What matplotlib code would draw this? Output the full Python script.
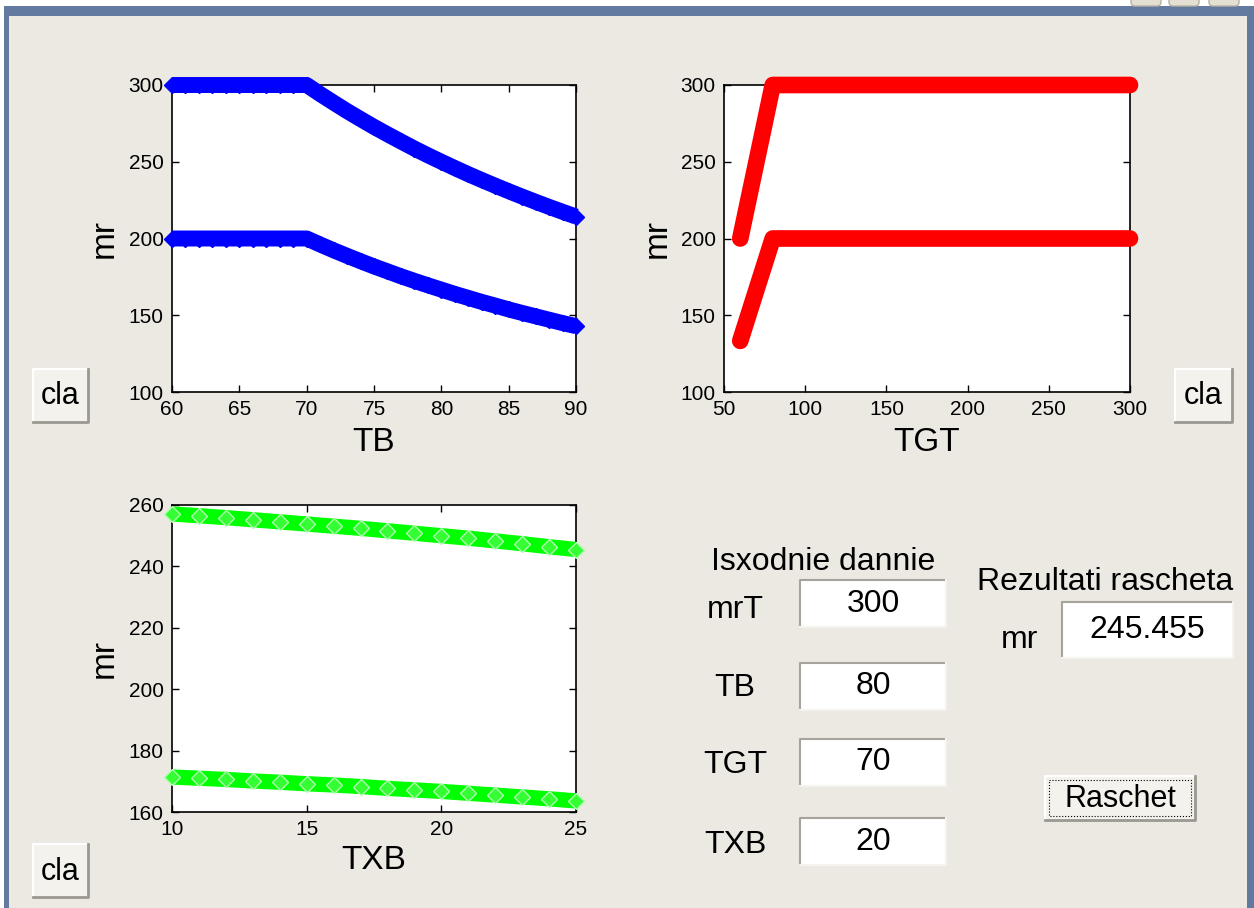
import matplotlib
matplotlib.use('Agg')
import matplotlib.pyplot as plt
from matplotlib.patches import Rectangle, FancyBboxPatch

plt.rcParams['font.family'] = ['Liberation Sans', 'DejaVu Sans']

# data
tb = [60, 61, 62, 63, 64, 65, 66, 67, 68, 69, 70, 71, 72, 73, 74, 75,
      76, 77, 78, 79, 80, 81, 82, 83, 84, 85, 86, 87, 88, 89, 90]
mr_tb_hi = [300, 300, 300, 300, 300, 300, 300, 300, 300, 300, 300,
            294.1, 288.5, 283.0, 277.8, 272.7, 267.9, 263.2, 258.6, 254.2, 250.0,
            245.9, 241.9, 238.1, 234.4, 230.8, 227.3, 223.9, 220.6, 217.4, 214.3]
mr_tb_lo = [200, 200, 200, 200, 200, 200, 200, 200, 200, 200, 200,
            196.1, 192.3, 188.7, 185.2, 181.8, 178.6, 175.4, 172.4, 169.5, 166.7,
            163.9, 161.3, 158.7, 156.3, 153.8, 151.5, 149.3, 147.1, 144.9, 142.9]

tgt = [60, 65, 70, 75, 80, 100, 150, 200, 250, 300]
mr_tgt_hi = [200, 225, 250, 275, 300, 300, 300, 300, 300, 300]
mr_tgt_lo = [133.3, 150, 166.7, 183.3, 200, 200, 200, 200, 200, 200]

txb = [10, 11, 12, 13, 14, 15, 16, 17, 18, 19, 20, 21, 22, 23, 24, 25]
mr_txb_hi = [257.1, 256.5, 255.9, 255.2, 254.5, 253.8, 253.1, 252.4,
             251.6, 250.8, 250.0, 249.2, 248.3, 247.4, 246.4, 245.5]
mr_txb_lo = [171.4, 171.0, 170.6, 170.1, 169.7, 169.2, 168.8, 168.3,
             167.7, 167.2, 166.7, 166.1, 165.5, 164.9, 164.3, 163.6]

# input / output fields of the gui
inputs = [('mrT', '300'), ('TB', '80'), ('TGT', '70'), ('TXB', '20')]
result = '245.455'

W, H = 1254, 908
bgcol = '#ece9e3'
fig = plt.figure(figsize=(W / 100, H / 100), dpi=100, facecolor=bgcol)

# background axes in pixel coords for the window chrome and controls
bg = fig.add_axes([0, 0, 1, 1])
bg.set_xlim(0, W)
bg.set_ylim(H, 0)
bg.axis('off')
bg.set_zorder(-1)

blue = '#6279a0'
bg.add_patch(Rectangle((0, 0), W, 6, color='white', lw=0))
bg.add_patch(Rectangle((0, 6), W, 10, color=blue, lw=0))
bg.add_patch(Rectangle((0, 0), 4, H, color='white', lw=0))
bg.add_patch(Rectangle((4, 6), 5, H, color=blue, lw=0))
bg.add_patch(Rectangle((1247, 6), 7, H, color=blue, lw=0))
for bx in [1131, 1169, 1209]:
    bg.add_patch(FancyBboxPatch((bx, -6), 30, 12, boxstyle='round,pad=0,rounding_size=4',
                                fc='#e4dfd3', ec='#b8b2a4', lw=1))


def button(x0, y0, x1, y1, label, focus=False):
    bg.add_patch(Rectangle((x0, y0), x1 - x0, y1 - y0, fc='#f3f2ed', ec='none'))
    bg.plot([x0, x0, x1], [y1, y0, y0], color='white', lw=1.5)
    bg.plot([x0, x1, x1], [y1, y1, y0], color='#9a9890', lw=2)
    if focus:
        bg.add_patch(Rectangle((x0 + 4, y0 + 4), x1 - x0 - 8, y1 - y0 - 8,
                               fc='none', ec='black', lw=0.8, ls=':'))
    bg.text((x0 + x1) / 2, (y0 + y1) / 2 + 1, label, ha='center', va='center', fontsize=22)


def editbox(x0, y0, x1, y1, value):
    bg.add_patch(Rectangle((x0, y0), x1 - x0, y1 - y0, fc='white', ec='none'))
    bg.plot([x0, x0, x1], [y1, y0, y0], color='#a5a39b', lw=1.5)
    bg.plot([x0, x1, x1], [y1, y1, y0], color='#f4f3ee', lw=1.5)
    bg.text((x0 + x1) / 2, (y0 + y1) / 2, value, ha='center', va='center', fontsize=23)


button(33, 369, 88, 422, 'cla')
button(1175, 369, 1232, 422, 'cla')
button(33, 844, 88, 897, 'cla')
button(1045, 776, 1195, 820, 'Raschet', focus=True)

bg.text(823, 562, 'Isxodnie dannie', ha='center', va='center', fontsize=23)
bg.text(1105, 582, 'Rezultati rascheta', ha='center', va='center', fontsize=23)
box_y = [580, 663, 739, 818]
lab_y = [610, 688, 765, 845]
for (name, val), by, ly in zip(inputs, box_y, lab_y):
    editbox(800, by, 946, by + 47, val)
    bg.text(735, ly, name, ha='center', va='center', fontsize=23)
editbox(1062, 602, 1233, 658, result)
bg.text(1020, 640, 'mr', ha='center', va='center', fontsize=23)


def make_axes(x0, y0, x1, y1):
    ax = fig.add_axes([x0 / W, 1 - y1 / H, (x1 - x0) / W, (y1 - y0) / H])
    ax.set_facecolor('white')
    ax.tick_params(direction='in', length=5, width=1, top=True, right=True,
                   labelsize=15, pad=6)
    for s in ax.spines.values():
        s.set_linewidth(1.2)
    return ax


def labels(ax, xl, ylab_x, xlab_y):
    ax.set_xlabel(xl, fontsize=24)
    ax.set_ylabel('mr', fontsize=24)
    ax.xaxis.set_label_coords(0.5, xlab_y)
    ax.yaxis.set_label_coords(ylab_x, 0.5)
    ax.xaxis.label.set_va('center')
    ax.yaxis.label.set_va('center')


# TB plot
ax1 = make_axes(172, 85, 576, 392)
for ys in [mr_tb_hi, mr_tb_lo]:
    ax1.plot(tb, ys, color='#0000ff', lw=11.5, solid_capstyle='butt', zorder=3, clip_on=False)
    ax1.plot(tb, ys, 'D', color='#0000ff', ms=8, zorder=3, clip_on=False)
ax1.set_xlim(60, 90)
ax1.set_ylim(100, 300)
ax1.set_xticks([60, 65, 70, 75, 80, 85, 90])
ax1.set_yticks([100, 150, 200, 250, 300])
labels(ax1, 'TB', -0.168, -0.165)

# TGT plot
ax2 = make_axes(724, 85, 1130, 392)
for ys in [mr_tgt_hi, mr_tgt_lo]:
    ax2.plot(tgt, ys, color='#ff0000', lw=12, solid_capstyle='round',
             solid_joinstyle='round', zorder=3, clip_on=False)
ax2.set_xlim(50, 300)
ax2.set_ylim(100, 300)
ax2.set_xticks([50, 100, 150, 200, 250, 300])
ax2.set_yticks([100, 150, 200, 250, 300])
labels(ax2, 'TGT', -0.165, -0.165)

# TXB plot
ax3 = make_axes(172, 505, 576, 812)
for ys in [mr_txb_hi, mr_txb_lo]:
    ax3.plot(txb, ys, color='#00ff00', lw=11, solid_capstyle='butt', zorder=3, clip_on=False)
    ax3.plot(txb, ys, 'D', mfc='#33ff33', mec='#b0ffb0', mew=1, ms=8.5, zorder=3, clip_on=False)
ax3.set_xlim(10, 25)
ax3.set_ylim(160, 260)
ax3.set_xticks([10, 15, 20, 25])
ax3.set_yticks([160, 180, 200, 220, 240, 260])
labels(ax3, 'TXB', -0.168, -0.157)

fig.savefig('out.png', dpi=100, facecolor=bgcol)
